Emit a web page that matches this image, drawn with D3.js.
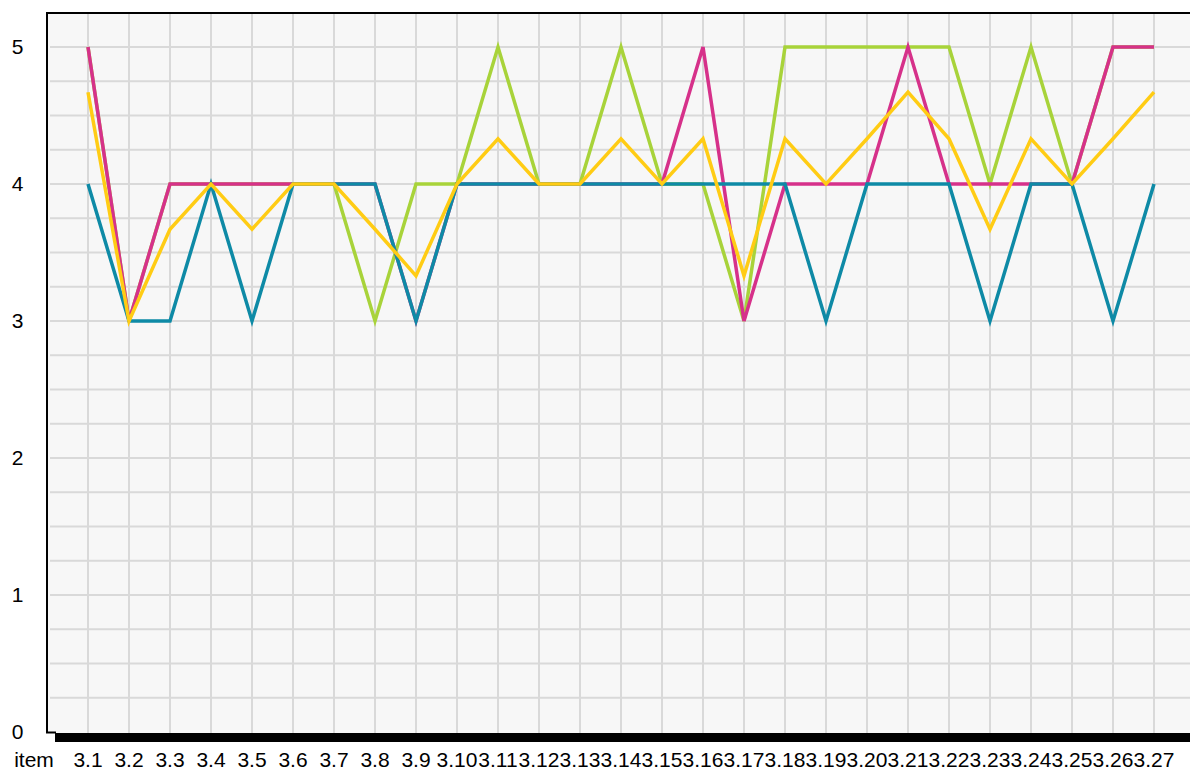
<!DOCTYPE html>
<html>
<head>
<meta charset="utf-8">
<script src="https://cdn.jsdelivr.net/npm/d3@7"></script>
<style>
  html, body { margin: 0; padding: 0; background: #fff; }
  svg { display: block; font-family: "Liberation Sans", Arial, sans-serif; }
</style>
</head>
<body>
<div id="chart"></div>
<script>
// chart data
const items = ["3.1","3.2","3.3","3.4","3.5","3.6","3.7","3.8","3.9","3.10",
  "3.11","3.12","3.13","3.14","3.15","3.16","3.17","3.18","3.19","3.20",
  "3.21","3.22","3.23","3.24","3.25","3.26","3.27"];

const greenValues   = [5,3,4,4,4,4,4,3,4,4,5,4,4,5,4,4,3,5,5,5,5,5,4,5,4,5,5];
const magentaValues = [5,3,4,4,4,4,4,4,3,4,4,4,4,4,4,5,3,4,4,4,5,4,4,4,4,5,5];
const tealValues    = [4,3,3,4,3,4,4,4,3,4,4,4,4,4,4,4,4,4,3,4,4,4,3,4,4,3,4];
const yellowValues  = [4.67,3,3.67,4,3.67,4,4,3.67,3.33,4,4.33,4,4,4.33,4,4.33,
  3.33,4.33,4,4.33,4.67,4.33,3.67,4.33,4,4.33,4.67];

const yTickLabels = [0, 1, 2, 3, 4, 5];
const xTitle = "item";

const width = 1190;
const height = 771;

const svg = d3.select("#chart").append("svg")
  .attr("width", width)
  .attr("height", height);

const plot = { left: 48, right: 1190, top: 13, bottom: 733 };

const x = d3.scalePoint()
  .domain(items)
  .range([88, 1154]);

const y = d3.scaleLinear()
  .domain([0, 5.25])
  .range([732, 12.75]);

// background
svg.append("rect")
  .attr("x", plot.left)
  .attr("y", plot.top)
  .attr("width", plot.right - plot.left)
  .attr("height", plot.bottom - plot.top)
  .attr("fill", "#f7f7f7");

// grid
const grid = svg.append("g")
  .attr("stroke", "#d9d9d9")
  .attr("stroke-width", 2);

grid.selectAll("line.h")
  .data(d3.range(1, 21).map(i => i * 0.25))
  .join("line")
  .attr("class", "h")
  .attr("x1", 50)
  .attr("x2", plot.right)
  .attr("y1", d => y(d))
  .attr("y2", d => y(d));

grid.selectAll("line.v")
  .data(items)
  .join("line")
  .attr("class", "v")
  .attr("x1", d => x(d))
  .attr("x2", d => x(d))
  .attr("y1", 14)
  .attr("y2", plot.bottom);

// frame
svg.append("line")
  .attr("x1", 46).attr("x2", plot.right)
  .attr("y1", 13).attr("y2", 13)
  .attr("stroke", "#000").attr("stroke-width", 2);

svg.append("line")
  .attr("x1", 47).attr("x2", 47)
  .attr("y1", 12).attr("y2", 733)
  .attr("stroke", "#000").attr("stroke-width", 2);

svg.append("line")
  .attr("x1", 46).attr("x2", 56)
  .attr("y1", 732.5).attr("y2", 732.5)
  .attr("stroke", "#000").attr("stroke-width", 2);

svg.append("rect")
  .attr("x", 55)
  .attr("y", 733)
  .attr("width", plot.right - 55)
  .attr("height", 9)
  .attr("fill", "#000");

// series lines
const line = d3.line()
  .x((d, i) => x(items[i]))
  .y(d => y(d));

const series = [
  { values: greenValues, color: "#a8d33a" },
  { values: magentaValues, color: "#d6318a" },
  { values: tealValues, color: "#0e8aa6" },
  { values: yellowValues, color: "#ffcc14" }
];

svg.selectAll("path.series")
  .data(series)
  .join("path")
  .attr("class", "series")
  .attr("fill", "none")
  .attr("stroke", d => d.color)
  .attr("stroke-width", 3.5)
  .attr("stroke-linejoin", "miter")
  .attr("d", d => line(d.values));

// y labels
svg.selectAll("text.ytick")
  .data(yTickLabels)
  .join("text")
  .attr("class", "ytick")
  .attr("x", 17.5)
  .attr("y", d => y(d))
  .attr("dy", "0.35em")
  .attr("text-anchor", "middle")
  .attr("font-size", 21)
  .attr("fill", "#000")
  .text(d => d);

// x labels
svg.selectAll("text.xtick")
  .data(items)
  .join("text")
  .attr("class", "xtick")
  .attr("x", d => x(d))
  .attr("y", 767)
  .attr("text-anchor", "middle")
  .attr("font-size", 21)
  .attr("fill", "#000")
  .text(d => d);

svg.append("text")
  .attr("x", 34)
  .attr("y", 767)
  .attr("text-anchor", "middle")
  .attr("font-size", 21)
  .attr("fill", "#000")
  .text(xTitle);
</script>
</body>
</html>
